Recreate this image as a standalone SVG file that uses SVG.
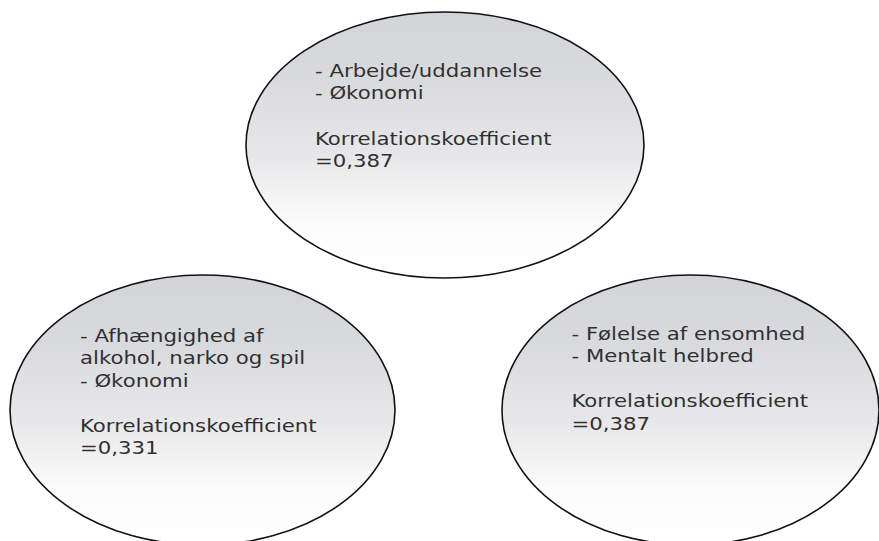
<svg xmlns="http://www.w3.org/2000/svg" width="879" height="541" viewBox="0 0 879 541">
  <defs>
    <linearGradient id="fillGrad" x1="0" y1="0" x2="0" y2="1">
      <stop offset="0" stop-color="#d3d4d7"/>
      <stop offset="0.25" stop-color="#d9dadd"/>
      <stop offset="0.55" stop-color="#e8e8ea"/>
      <stop offset="0.8" stop-color="#fcfcfc"/>
      <stop offset="1" stop-color="#ffffff"/>
    </linearGradient>
  </defs>
  <style>
    .node ellipse { fill: url(#fillGrad); stroke: #111111; stroke-width: 1.6; }
    .node text { font-family: "DejaVu Sans", Verdana, sans-serif; font-size: 18px; fill: #303030; }
  </style>
  <rect width="879" height="541" fill="#ffffff"/>
  <g id="connectors"/>
  <g id="node-top" class="node">
    <ellipse cx="445" cy="145" rx="199" ry="133"/>
    <g transform="translate(315,0) scale(1.18,1)">
      <text x="0" y="77">- Arbejde/uddannelse</text>
      <text x="0" y="99.5">- Økonomi</text>
      <text x="0" y="145">Korrelationskoefficient</text>
      <text x="0" y="167">=0,387</text>
    </g>
  </g>
  <g id="node-left" class="node">
    <ellipse cx="202.5" cy="410" rx="192.5" ry="135"/>
    <g transform="translate(80,0) scale(1.18,1)">
      <text x="0" y="342">- Afhængighed af</text>
      <text x="0" y="364.5">alkohol, narko og spil</text>
      <text x="0" y="387">- Økonomi</text>
      <text x="0" y="432">Korrelationskoefficient</text>
      <text x="0" y="454.5">=0,331</text>
    </g>
  </g>
  <g id="node-right" class="node">
    <ellipse cx="690.5" cy="410" rx="188.5" ry="135"/>
    <g transform="translate(571.5,0) scale(1.18,1)">
      <text x="0" y="340">- Følelse af ensomhed</text>
      <text x="0" y="362.5">- Mentalt helbred</text>
      <text x="0" y="407.5">Korrelationskoefficient</text>
      <text x="0" y="430">=0,387</text>
    </g>
  </g>
</svg>
